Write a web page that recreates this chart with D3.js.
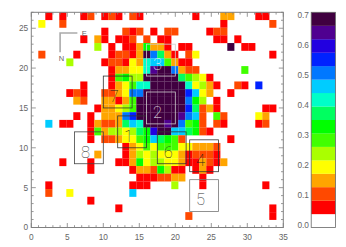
<!DOCTYPE html>
<html>
<head>
<meta charset="utf-8">
<script src="https://cdn.jsdelivr.net/npm/d3@7/dist/d3.min.js"></script>
<style>
html,body{margin:0;padding:0;background:#fff;overflow:hidden}
text{font-family:"Liberation Sans",Arial,sans-serif}
text.boxlabel{font-family:Roboto,"Liberation Sans",sans-serif;font-weight:100}
</style>
</head>
<body>
<svg id="c" width="346" height="247"></svg>
<script>
// Map rows, top row first. Each character is a colour-band index (hex digit).
const mapRows = [
"..1.1..12.121.21.......1...33...11..",
".4..2......................1......2.",
"..........1..212.1.22....122........",
".......1.31.112.2.11......11.1......",
".........5.1.1137331.11.....f.11....",
".2....1....12213fb831.24..........1.",
".....5....1221439aa6311.............",
"...........133449effb322......6.....",
"...........16755fffff86541..........",
".......1...134699fffff94531..21.c...",
".....121..2234bbffffffca43..1.......",
"......32..33136fffffffb75.1.........",
".........133456fffffffc8231......11.",
"......1.1.333bcffffffeba2.62....43..",
"..a.11..132238a9fffefb672.21....12..",
"........163554587dffaa8721..........",
"........1.2234467a8762......1.......",
".............13464666443332.........",
".........3...13545444312221.........",
"....1...1...1137455443113213........",
"........1.....13327511.131..........",
"...............1112233..1...........",
"..1...........111...5...1........1..",
"..2..4........a.....................",
"........1...........................",
"............1.....................1.",
"......................2...........1.",
"...................................."
];
// Representative value of each colour band (band width 0.7/16).
const bandValues = [0.02,0.07,0.11,0.15,0.20,0.24,0.28,0.33,0.37,0.42,0.46,0.50,0.55,0.59,0.63,0.68];
const bandEdges  = [0.044,0.088,0.131,0.175,0.219,0.263,0.306,0.35,0.394,0.438,0.481,0.525,0.569,0.613,0.656];
const bandColors = ["#ffffff","#ff0000","#ff4800","#ffa500","#ffff00","#aaff00","#40ff00","#00ff00","#00ff60","#00ffc8","#00ccff","#0078ff","#0020ff","#2000e0","#500090","#400040"];
const xTicks = [0,5,10,15,20,25,30,35];
const yTicks = [0,5,10,15,20,25];
const barTicks = [0,0.1,0.2,0.3,0.4,0.5,0.6,0.7];
const boxNames = ["1","2","3","4","5","6","7","8"];
const boxX = [12,16,16,22,22,17.5,10,6];
const boxY = [10,13,19,7,2,8,15,8];
const boxColors = ["#333","#ccc","#ccc","#333","#777","#333","#333","#444"];
const boxTextColors = ["#222","#eee","#eee","#222","#333","#222","#222","#333"];
const boxSize = 4;
const compassX = [4,4,6.4];
const compassY = [22,24.4,24.4];

const W=346,H=247,L=31.3,R=283.3,T=12.3,B=227.5;
const svg=d3.select("#c");
const defs=svg.append("defs");
defs.append("filter").attr("id","soft").attr("x","-2%").attr("y","-2%").attr("width","104%").attr("height","104%")
  .append("feGaussianBlur").attr("stdDeviation",0.3);
const x=d3.scaleLinear().domain([0,35]).range([L,R]);
const y=d3.scaleLinear().domain([0,27]).range([B,T]);
const col=d3.scaleThreshold().domain(bandEdges).range(bandColors);
const cols=d3.scaleBand().domain(d3.range(36)).range([L,R]);
const rows=d3.scaleBand().domain(d3.range(mapRows.length)).range([T,B]);

const cells=mapRows.flatMap((s,r)=>Array.from(s).map((c,k)=>({k,r,v:c==="."?bandValues[0]:bandValues[parseInt(c,16)]}))).filter(d=>d.v>bandEdges[0]);
svg.append("g").attr("filter","url(#soft)").selectAll("rect").data(cells).join("rect")
  .attr("x",d=>cols(d.k)).attr("y",d=>rows(d.r))
  .attr("width",cols.bandwidth()+0.1).attr("height",rows.bandwidth()+0.1)
  .attr("fill",d=>col(d.v));

const axisColor="#808080", textColor="#666";
function ticks(g,sc,vals,orient,len){
  vals.forEach(v=>{
    const p=sc(v);
    if(orient==="b") g.append("line").attr("x1",p).attr("x2",p).attr("y1",B).attr("y2",B-len);
    if(orient==="t") g.append("line").attr("x1",p).attr("x2",p).attr("y1",T).attr("y2",T+len);
    if(orient==="l") g.append("line").attr("y1",p).attr("y2",p).attr("x1",L).attr("x2",L+len);
    if(orient==="r") g.append("line").attr("y1",p).attr("y2",p).attr("x1",R).attr("x2",R-len);
  });
}
const ax=svg.append("g").attr("stroke",axisColor).attr("stroke-width",0.8).attr("fill","none");
const minorX=d3.range(0,36).filter(v=>v%5), minorY=d3.range(0,28).filter(v=>v%5);
ticks(ax,x,xTicks,"b",4.5);ticks(ax,x,xTicks,"t",4.5);ticks(ax,x,minorX,"b",2.3);ticks(ax,x,minorX,"t",2.3);
ticks(ax,y,yTicks,"l",4.5);ticks(ax,y,yTicks,"r",4.5);ticks(ax,y,minorY,"l",2.3);ticks(ax,y,minorY,"r",2.3);
ax.append("rect").attr("x",L).attr("y",T).attr("width",R-L).attr("height",B-T).attr("stroke-width",1);

const lab=svg.append("g").attr("fill",textColor).attr("font-size",8.3);
lab.selectAll(".xl").data(xTicks).join("text").attr("class","xl")
  .attr("x",d=>x(d)).attr("y",239.5).attr("text-anchor","middle").text(d=>d);
lab.selectAll(".yl").data(yTicks).join("text").attr("class","yl")
  .attr("x",28.2).attr("y",d=>y(d)+2.9).attr("text-anchor","end").text(d=>d);

// boxes and labels
const bx=svg.append("g").attr("fill","none");
boxNames.forEach((n,i)=>{
  const x0=x(boxX[i]),x1=x(boxX[i]+boxSize),y0=y(boxY[i]+boxSize),y1=y(boxY[i]);
  bx.append("rect").attr("x",x0).attr("y",y0).attr("width",x1-x0).attr("height",y1-y0)
    .attr("stroke",boxColors[i]).attr("stroke-width",0.8);
  bx.append("text").attr("class","boxlabel").attr("x",(x0+x1)/2-3.5).attr("y",(y0+y1)/2+4+5.8).attr("text-anchor","middle")
    .attr("font-size",16.5).attr("fill",boxTextColors[i]).attr("stroke","none").text(n);
});

// compass
const line=d3.line().x((d,i)=>x(compassX[i])).y((d,i)=>y(compassY[i]));
svg.append("path").attr("d",line(compassX)).attr("fill","none").attr("stroke","#aaa").attr("stroke-width",1.6);
svg.append("text").attr("x",x(7)).attr("y",y(24.4)+3).attr("font-size",7.5).attr("fill",textColor).text("E");
svg.append("text").attr("x",x(4)+1.3).attr("y",y(22)+8.5).attr("text-anchor","middle").attr("font-size",7.5).attr("fill",textColor).text("N");

// colour bar
const BL=311.2,BR=335.4;
const bandY=d3.scaleBand().domain(d3.range(bandColors.length)).range([B,T]);
svg.append("g").attr("filter","url(#soft)").selectAll("rect").data(bandColors).join("rect")
  .attr("x",BL).attr("width",BR-BL).attr("y",(d,i)=>bandY(i)).attr("height",bandY.bandwidth()+0.1)
  .attr("fill",d=>d);
svg.append("rect").attr("x",BL).attr("y",T).attr("width",BR-BL).attr("height",B-T)
  .attr("fill","none").attr("stroke","#666").attr("stroke-width",0.8);
const by=d3.scaleLinear().domain([0,0.7]).range([225,15]);
lab.selectAll(".bl").data(barTicks).join("text").attr("class","bl")
  .attr("x",309).attr("y",d=>by(d)+2.9).attr("text-anchor","end").text(d=>d.toFixed(1));
</script>
</body>
</html>
